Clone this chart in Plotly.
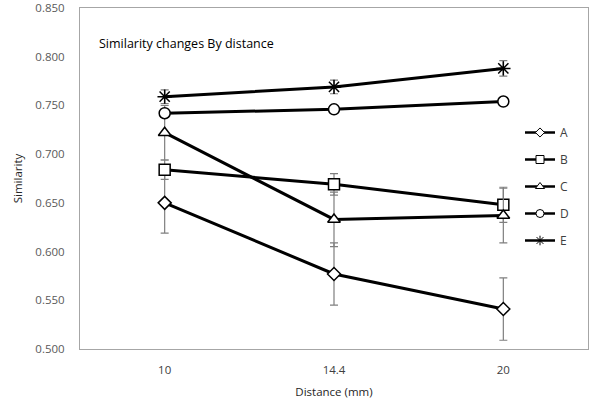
import plotly.graph_objects as go

categories = ["10", "14.4", "20"]
series_names = ["A", "B", "C", "D", "E"]
values_A = [0.650, 0.577, 0.541]
values_B = [0.684, 0.669, 0.648]
values_C = [0.722, 0.633, 0.637]
values_D = [0.742, 0.746, 0.754]
values_E = [0.759, 0.769, 0.788]
err_A = [0.031, 0.032, 0.032]
err_B = [0.010, 0.011, 0.018]
err_C = [0.028, 0.028, 0.028]
err_D = [0.004, 0.004, 0.004]
err_E = [0.007, 0.007, 0.008]
y_ticks = [0.500, 0.550, 0.600, 0.650, 0.700, 0.750, 0.800, 0.850]

values = [values_A, values_B, values_C, values_D, values_E]
errors = [err_A, err_B, err_C, err_D, err_E]
symbols = ["diamond", "square", "triangle-up", "circle", "asterisk-open"]
sizes = [10, 11, 11, 11, 12]
legend_sizes = [7, 8, 8, 8, 8]

font = "Open Sans"
fig = go.Figure()
for i, name in enumerate(series_names):
    is_open = symbols[i].endswith("-open")
    fig.add_trace(go.Scatter(
        x=categories, y=values[i], name=name, mode="lines+markers",
        legendgroup=name, showlegend=False,
        line=dict(color="black", width=3),
        marker=dict(symbol=symbols[i], size=sizes[i],
                    color="black" if is_open else "white",
                    line=dict(color="black", width=1.5)),
        error_y=dict(type="data", array=errors[i], visible=True,
                     color="#7f7f7f", thickness=1.2, width=4),
    ))
for i, name in enumerate(series_names):
    is_open = symbols[i].endswith("-open")
    fig.add_trace(go.Scatter(
        x=[None], y=[None], name=name, mode="lines+markers",
        legendgroup=name, showlegend=True,
        line=dict(color="black", width=2.5),
        marker=dict(symbol=symbols[i], size=legend_sizes[i],
                    color="black" if is_open else "white",
                    line=dict(color="black", width=1)),
    ))

fig.add_annotation(text="Similarity changes By distance", xref="paper", yref="paper",
                   x=(97 - 80) / 508, y=1 - (43 - 8) / 341, xanchor="left", yanchor="middle",
                   showarrow=False, font=dict(family=font, size=12.5, color="black"))

fig.update_layout(
    width=589, height=403,
    margin=dict(l=80, r=1, t=8, b=54),
    paper_bgcolor="white", plot_bgcolor="white",
    font=dict(family=font, size=11, color="#404040"),
    showlegend=True,
    legend=dict(x=(520 - 80) / 508, y=1 - (118 - 8) / 341, xanchor="left", yanchor="top",
                bgcolor="rgba(0,0,0,0)", tracegroupgap=8, itemwidth=30,
                font=dict(family=font, size=12, color="#404040")),
    xaxis=dict(type="category", range=[-0.5, 2.5], showline=True, mirror=True,
               linecolor="#a6a6a6", linewidth=1, showgrid=False, ticks="",
               ticklabelstandoff=10,
               tickfont=dict(size=11.5, color="#404040"),
               title=dict(text="Distance (mm)", font=dict(size=11.5, color="#262626"), standoff=12)),
    yaxis=dict(range=[0.5, 0.85], tickvals=y_ticks, tickformat=".3f", showline=True, mirror=True,
               linecolor="#a6a6a6", linewidth=1, showgrid=False, ticks="",
               ticklabelstandoff=12,
               tickfont=dict(size=11.5, color="#595959"),
               title=dict(text="Similarity", font=dict(size=11.5, color="#262626"), standoff=10)),
)

fig.write_html("out.html", config={"displayModeBar": False},
               post_script="document.body.style.margin='0';")
